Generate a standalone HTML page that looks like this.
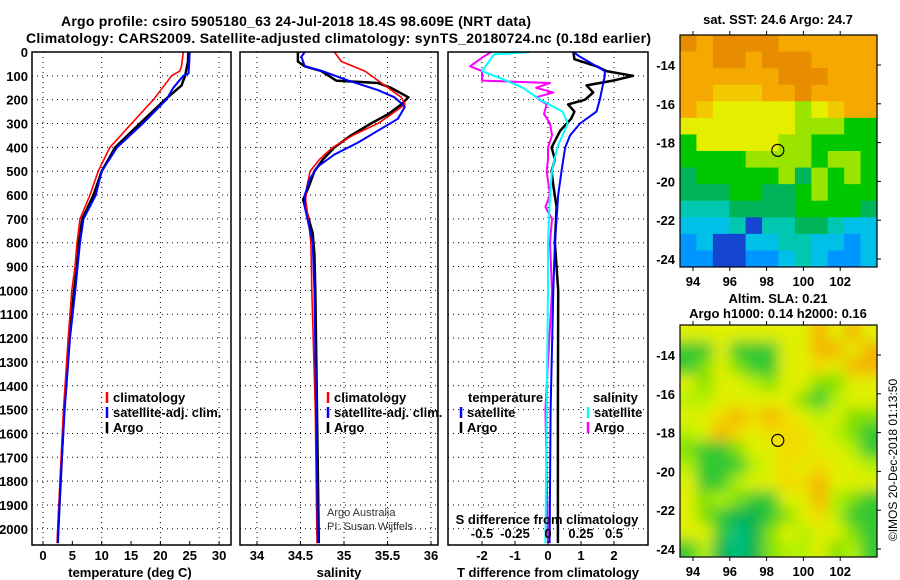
<!DOCTYPE html>
<html><head><meta charset="utf-8"><title>Argo profile</title>
<style>
body{margin:0;background:#fff;}
svg{display:block;font-family:"Liberation Sans",sans-serif;}
.b{font-weight:bold;font-size:13px;}
.t{font-weight:bold;font-size:14px;}
</style></head>
<body>
<svg id="c" width="900" height="580" viewBox="0 0 900 580" xmlns="http://www.w3.org/2000/svg">
<text class="t" x="61" y="26" textLength="470">Argo profile: csiro 5905180_63 24-Jul-2018 18.4S 98.609E (NRT data)</text>
<text class="t" x="26" y="43" textLength="625">Climatology: CARS2009. Satellite-adjusted climatology: synTS_20180724.nc (0.18d earlier)</text>
<g id="g-grid"></g>
<g id="g-lines"></g>
<g id="g-axes"></g>
<g id="g-maps"></g>
<text x="897" y="460" font-size="12" text-anchor="middle" transform="rotate(-90 897 460)">©IMOS 20-Dec-2018 01:13:50</text>
<text x="327" y="516" font-size="11" fill="#333">Argo Australia</text>
<text x="327" y="530" font-size="11" fill="#333">PI: Susan Wijffels</text>
</svg>
<script>
// ---- data ----
const tArgoD=[0,40,100,140,200,300,400,500,600,700,800,900,1000,1200,1500,1800,2000,2060];
const tArgoV=[24.75,24.7,24.2,23.6,20.8,16.5,12.3,10.0,8.6,6.7,6.1,5.8,5.3,4.5,3.6,3.0,2.6,2.5];
const tClimD=[0,60,80,100,200,300,400,500,600,700,800,900,1000,1200,1500,1800,2000,2060];
const tClimV=[23.9,23.6,23.3,21.9,18.8,15.1,11.4,9.4,8.0,6.3,5.8,5.45,4.9,4.3,3.5,2.9,2.5,2.4];
const tSatD=[0,90,100,150,200,300,400,500,600,700,800,900,1000,1200,1500,1800,2000,2060];
const tSatV=[25.0,24.8,23.9,22.2,21.0,17.0,12.6,10.0,9.0,6.9,6.3,5.9,5.5,4.6,3.7,3.0,2.6,2.5];

const sArgoD=[0,40,60,80,120,130,150,190,220,260,300,350,400,450,500,570,620,670,760,850,1000,1500,2060];
const sArgoV=[34.47,34.47,34.55,34.74,34.91,35.39,35.54,35.74,35.66,35.51,35.31,35.08,34.89,34.76,34.66,34.59,34.53,34.57,34.64,34.66,34.67,34.69,34.71];
const sClimD=[0,40,80,130,190,220,260,300,350,400,450,500,570,620,700,800,1000,1500,2060];
const sClimV=[34.89,34.97,35.24,35.43,35.66,35.70,35.55,35.39,35.10,34.87,34.72,34.61,34.57,34.56,34.59,34.62,34.63,34.67,34.69];
const sSatD=[0,20,60,80,120,160,190,230,280,330,380,430,480,530,600,650,800,1000,1500,2060];
const sSatV=[34.55,34.51,34.55,34.75,35.05,35.39,35.58,35.70,35.62,35.39,35.16,34.89,34.70,34.61,34.55,34.55,34.64,34.66,34.68,34.70];

const dtArgoD=[0,30,60,80,100,120,140,170,200,220,250,280,330,400,450,500,560,650,800,1000,1500,2060];
const dtArgoV=[0.77,0.8,1.47,1.77,2.58,1.97,1.17,1.37,1.12,0.61,0.8,0.7,0.37,0.11,0.21,0.11,0.16,0.26,0.21,0.31,0.3,0.3];
const dtSatD=[0,20,80,100,200,250,300,350,400,500,600,800,1000,1500,2060];
const dtSatV=[0.77,0.97,1.72,1.72,1.57,1.47,0.97,0.67,0.52,0.41,0.31,0.21,0.16,0.08,0.05];
const dsArgoD=[0,20,60,80,120,130,150,170,190,220,260,300,350,400,450,500,600,650,700,800,1000,1500,2060];
const dsArgoV=[-0.43,-0.49,-0.59,-0.5,-0.5,0.015,-0.09,0.04,-0.09,-0.01,-0.03,0.015,0.03,0.0,0.0,-0.01,0.015,-0.02,0.03,0.015,0.03,-0.02,0.0];
const dsSatD=[0,10,50,80,110,150,200,250,300,350,400,500,600,800,1000,1500,2060];
const dsSatV=[-0.14,-0.41,-0.46,-0.5,-0.36,-0.19,-0.06,0.11,0.15,0.11,0.07,0.03,0.015,0.0,0.0,-0.01,-0.02];

const depthTicks=[0,100,200,300,400,500,600,700,800,900,1000,1100,1200,1300,1400,1500,1600,1700,1800,1900,2000];
const tempTicks=[0,5,10,15,20,25,30];
const salTicks=[34,34.5,35,35.5,36];
const dtTicks=[-2,-1,0,1,2];
const dsTicks=[-0.5,-0.25,0,0.25,0.5];
const dsTickLabels=["-0.5","-0.25","0","0.25","0.5"];
const lonTicks=[94,96,98,100,102];
const latTicks=[-14,-16,-18,-20,-22,-24];
const argoLon=98.609, argoLat=-18.4;

// ---- scales ----
const TOP=52,BOT=545;
const yD=d=>TOP+d*0.2384;
const xT=t=>43+t*5.87;
const xS=s=>257+(s-34)*87;
const xDT=t=>548+t*33;
const xDS=s=>548+s*132;
const panels=[[32,231],[240,438],[448,648]];
const NS="http://www.w3.org/2000/svg";
function mk(tag,attrs,parent){const e=document.createElementNS(NS,tag);for(const k in attrs)e.setAttribute(k,attrs[k]);parent.appendChild(e);return e;}
const gGrid=document.getElementById('g-grid'),gL=document.getElementById('g-lines'),gA=document.getElementById('g-axes'),gM=document.getElementById('g-maps');

// grid
panels.forEach(p=>{depthTicks.forEach(d=>{const l=mk('line',{x1:p[0],x2:p[1],y1:yD(d),y2:yD(d),stroke:'#000','stroke-width':1,'stroke-dasharray':'1 4'},gGrid);

});});
function vgrid(vals,f){vals.forEach(v=>{const l=mk('line',{x1:f(v),x2:f(v),y1:TOP,y2:BOT,stroke:'#000','stroke-width':1,'stroke-dasharray':'1 4'},gGrid);

});}
vgrid([0,10,20,30],xT);vgrid(salTicks,xS);vgrid(dtTicks,xDT);

// lines
function line(D,V,f,col,w,name){const pts=D.map((d,i)=>f(V[i]).toFixed(1)+','+yD(d).toFixed(1)).join(' ');
const e=mk('polyline',{points:pts,fill:'none',stroke:col,'stroke-width':w,'stroke-linejoin':'round'},gL);

}
line(tArgoD,tArgoV,xT,'#000',2.5,'temp-argo-line');
line(tClimD,tClimV,xT,'#f00',1.6,'temp-climatology-line');
line(tSatD,tSatV,xT,'#00f',2,'temp-satellite-line');
line(sArgoD,sArgoV,xS,'#000',2.5,'sal-argo-line');
line(sClimD,sClimV,xS,'#f00',1.6,'sal-climatology-line');
line(sSatD,sSatV,xS,'#00f',2,'sal-satellite-line');
line(dsArgoD,dsArgoV,xDS,'#f0f',2,'s-diff-argo-line');
line(dtArgoD,dtArgoV,xDT,'#000',2.5,'t-diff-argo-line');
line(dsSatD,dsSatV,xDS,'#0ff',2,'s-diff-satellite-line');
line(dtSatD,dtSatV,xDT,'#00f',2,'t-diff-satellite-line');

// axes
panels.forEach((p,i)=>{const r=mk('rect',{x:p[0],y:TOP,width:p[1]-p[0],height:BOT-TOP,fill:'none',stroke:'#000','stroke-width':1.5},gA);

});
function txt(x,y,s,name,anchor,cls,extra){const e=mk('text',Object.assign({x:x,y:y,'text-anchor':anchor||'start',class:cls||'b'},extra||{}),gA);e.textContent=s;

return e;}
depthTicks.forEach(d=>txt(28,yD(d)+5,String(d),'depth-tick-label','end'));
tempTicks.forEach(t=>{txt(xT(t),560,String(t),'temp-tick-label','middle');mk('line',{x1:xT(t),x2:xT(t),y1:BOT,y2:BOT-4,stroke:'#000'},gA);});
salTicks.forEach(s=>{txt(xS(s),560,String(s),'sal-tick-label','middle');mk('line',{x1:xS(s),x2:xS(s),y1:BOT,y2:BOT-4,stroke:'#000'},gA);});
dtTicks.forEach(t=>{txt(xDT(t),560,String(t),'t-diff-tick-label','middle');mk('line',{x1:xDT(t),x2:xDT(t),y1:BOT,y2:BOT-4,stroke:'#000'},gA);});
dsTicks.forEach((s,i)=>txt(xDS(s),538,dsTickLabels[i],'s-diff-tick-label','middle'));
txt(130,577,'temperature (deg C)','temp-axis-title','middle');
txt(339,577,'salinity','sal-axis-title','middle');
txt(548,577,'T difference from climatology','t-diff-axis-title','middle');
txt(547,524,'S difference from climatology','s-diff-axis-title','middle');

// legends
function leg(mx,tx,y,col,label,name){const m=mk('line',{x1:mx,x2:mx,y1:y-10,y2:y+1,stroke:col,'stroke-width':2.5},gA);


txt(tx,y,label,name);}
leg(107,113,402,'#f00','climatology','legend-climatology');
leg(107,113,417,'#00f','satellite-adj. clim.','legend-satellite');
leg(107,113,432,'#000','Argo','legend-argo');
leg(328,334,402,'#f00','climatology','legend2-climatology');
leg(328,334,417,'#00f','satellite-adj. clim.','legend2-satellite');
leg(328,334,432,'#000','Argo','legend2-argo');
txt(468,402,'temperature','legend-temperature-header');
leg(461,467,417,'#00f','satellite','legend-t-satellite');
leg(461,467,432,'#000','Argo','legend-t-argo');
txt(593,402,'salinity','legend-salinity-header');
leg(588,594,417,'#0ff','satellite','legend-s-satellite');
leg(588,594,432,'#f0f','Argo','legend-s-argo');

// maps
const palA={O:'#e88c00',o:'#f5a800',Y:'#f2c800',y:'#e6ee00',L:'#9ae400',G:'#00c800',g:'#00b45a',C:'#00c8b0',c:'#00c0e8',B:'#0096ff',D:'#1446d2'};
const sstRows=["OoOOOOoooooo","ooOOoOOOoooo","ooooooOOOooo","ooYYYooOoooo","oYyyyyyLyYoo","yyyyyyyLLLGG","GyyyyyLLGGGG","GGGGLLLLGLLG","gGGGGGLgLGLG","gggGGggGLGGG","CCCggggGGGGg","cccCDCCggCcc","BcDDccCCccBc","BBDDBBcCcBBc"];
const palB={O:'#f5b400',Y:'#f2dc00',y:'#e0f000',l:'#b4f000',L:'#80e000',G:'#30c830',g:'#00b450',T:'#00c080'};
const slaRows=["yyyyyyyyOyOy","GGyGGGyyOOyO","GLyLGGyyYyOO","yLyylLyyLLyy","llyyyyyLGlyy","yyYOYOYylyLL","lyOYyYYYylLG","LGGLyyYYyylG","lGGGlyYyYyyl","yGGlyyYYOyyy","yLlLGGyyOlLG","yLGggGLyYlGG","yyGTgLylyyLG","GlgTgLllyLlG"];
const MX0=680,MX1=877;
const xLon=l=>693+(l-94)*18.4;
function drawMap(y0,rows,pal,blur,name,titles){
  const g=mk('g',{},gM);
  
  
  const cid='clip-'+name;
  const cp=mk('clipPath',{id:cid},g);mk('rect',{x:MX0,y:y0,width:MX1-MX0,height:232},cp);
  if(blur){const f=mk('filter',{id:'bl-'+name,x:'-10%',y:'-10%',width:'120%',height:'120%'},g);mk('feGaussianBlur',{stdDeviation:7},f);}
  const inner=mk('g',{'clip-path':'url(#'+cid+')'},g);
  const cells=mk('g',blur?{filter:'url(#bl-'+name+')'}:{},inner);
  const cw=(MX1-MX0)/12,ch=232/14;
  rows.forEach((r,j)=>{for(let i=0;i<12;i++){const pad=blur?12:0;
    const x=MX0+i*cw-(i==0?pad:0),y=y0+j*ch-(j==0?pad:0);
    mk('rect',{x:x,y:y,width:cw+0.6+(i==0||i==11?pad:0),height:ch+0.6+(j==0||j==13?pad:0),fill:pal[r[i]]},cells);}});
  mk('rect',{x:MX0,y:y0,width:MX1-MX0,height:232,fill:'none',stroke:'#000','stroke-width':1.2},g);
  const yLat=l=>y0+30+(-14-l)*19.4;
  lonTicks.forEach(l=>{mk('line',{x1:xLon(l),x2:xLon(l),y1:y0,y2:y0-4,stroke:'#000'},g);mk('line',{x1:xLon(l),x2:xLon(l),y1:y0+232,y2:y0+236,stroke:'#000'},g);
    const t=mk('text',{x:xLon(l),y:y0+251,'text-anchor':'middle',class:'b'},g);t.textContent=String(l);
    
    });
  latTicks.forEach(l=>{mk('line',{x1:MX1,x2:MX1+4,y1:yLat(l),y2:yLat(l),stroke:'#000'},g);
    const t=mk('text',{x:675,y:yLat(l)+5,'text-anchor':'end',class:'b'},g);t.textContent=String(l);
    
    });
  const c=mk('circle',{cx:xLon(argoLon),cy:yLat(argoLat),r:6,fill:'none',stroke:'#000','stroke-width':1.2},g);
  
  
  titles.forEach((s,k)=>{const t=mk('text',{x:778,y:titles.length==1?y0-11:y0-22+k*15,'text-anchor':'middle',class:'b'},g);t.textContent=s;
    
    });
}
drawMap(35,sstRows,palA,false,'sst-map',['sat. SST: 24.6 Argo: 24.7']);
drawMap(325,slaRows,palB,true,'sla-map',['Altim. SLA: 0.21','Argo h1000: 0.14 h2000: 0.16']);
</script>
</body></html>
